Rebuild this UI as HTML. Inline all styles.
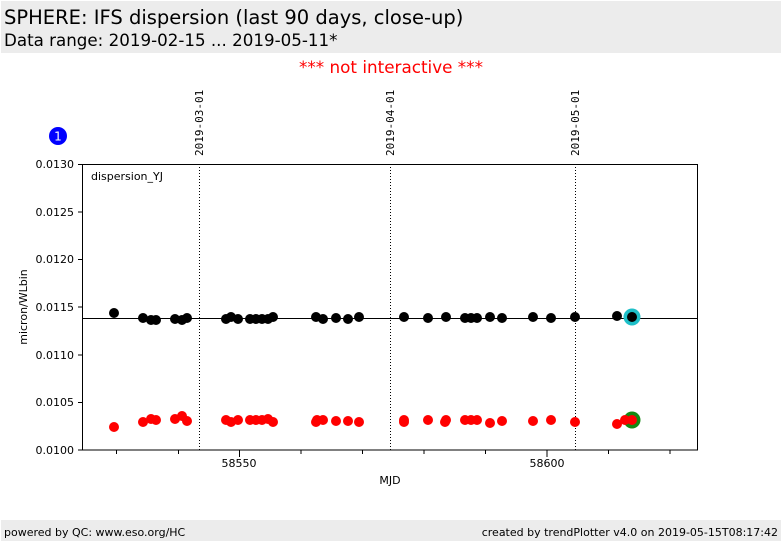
<!DOCTYPE html>
<html><head><meta charset="utf-8"><style>
body{margin:0;width:782px;height:542px;background:#fff;font-family:"Liberation Sans","DejaVu Sans",sans-serif;overflow:hidden}
</style></head><body>
<svg width="782" height="542" xmlns="http://www.w3.org/2000/svg" font-family="DejaVu Sans, Liberation Sans, sans-serif">
<rect x="1" y="1" width="780" height="52" fill="#ececec"/>
<text x="4" y="24" font-size="19.5">SPHERE: IFS dispersion (last 90 days, close-up)</text>
<text x="4" y="46" font-size="16.7">Data range: 2019-02-15 ... 2019-05-11*</text>
<text x="391" y="73" font-size="16.8" fill="#ff0000" text-anchor="middle">*** not interactive ***</text>
<rect x="1" y="520" width="780" height="21" fill="#ececec"/>
<text x="4" y="536" font-size="11">powered by QC: www.eso.org/HC</text>
<text x="778" y="536" font-size="11" text-anchor="end">created by trendPlotter v4.0 on 2019-05-15T08:17:42</text>
<circle cx="58" cy="136" r="9" fill="#0000ff"/>
<text x="58" y="140.5" font-size="12" fill="#fff" text-anchor="middle">1</text>
<g font-family="DejaVu Sans Mono, Liberation Mono, monospace" font-size="11">
<text transform="translate(203,156) rotate(-90)">2019-03-01</text>
<text transform="translate(394,156) rotate(-90)">2019-04-01</text>
<text transform="translate(579,156) rotate(-90)">2019-05-01</text>
</g>
<g stroke="#000" stroke-width="1" stroke-dasharray="1,2">
<line x1="199.5" y1="164" x2="199.5" y2="450"/>
<line x1="390.5" y1="164" x2="390.5" y2="450"/>
<line x1="575.5" y1="164" x2="575.5" y2="450"/>
</g>
<line x1="82" y1="318.5" x2="698" y2="318.5" stroke="#000"/>
<rect x="82.5" y="164.5" width="615" height="285.5" fill="none" stroke="#000"/>
<g stroke="#000">
<line x1="78" y1="164.5" x2="82" y2="164.5"/><line x1="78" y1="212" x2="82" y2="212"/>
<line x1="78" y1="259.5" x2="82" y2="259.5"/><line x1="78" y1="307" x2="82" y2="307"/>
<line x1="78" y1="355" x2="82" y2="355"/><line x1="78" y1="402.5" x2="82" y2="402.5"/>
<line x1="78" y1="450" x2="82" y2="450"/>
<line x1="116.5" y1="450" x2="116.5" y2="454"/><line x1="178.5" y1="450" x2="178.5" y2="454"/>
<line x1="239.5" y1="450" x2="239.5" y2="457"/><line x1="301" y1="450" x2="301" y2="454"/>
<line x1="362.5" y1="450" x2="362.5" y2="454"/><line x1="424" y1="450" x2="424" y2="454"/>
<line x1="485.5" y1="450" x2="485.5" y2="454"/><line x1="547" y1="450" x2="547" y2="457"/>
<line x1="608.5" y1="450" x2="608.5" y2="454"/><line x1="670" y1="450" x2="670" y2="454"/>
</g>
<g font-size="11" text-anchor="end">
<text x="74" y="168">0.0130</text><text x="74" y="216">0.0125</text>
<text x="74" y="263">0.0120</text><text x="74" y="311">0.0115</text>
<text x="74" y="359">0.0110</text><text x="74" y="406">0.0105</text>
<text x="74" y="454">0.0100</text>
</g>
<g font-size="11" text-anchor="middle">
<text x="239" y="467">58550</text><text x="547" y="467">58600</text>
<text x="390" y="484">MJD</text>
</g>
<text transform="translate(27,307) rotate(-90)" font-size="11" text-anchor="middle">micron/WLbin</text>
<text x="91" y="180" font-size="11">dispersion_YJ</text>
<circle cx="632" cy="317" r="8.5" fill="#1ebfc8"/>
<circle cx="632" cy="420" r="8.5" fill="#138a13"/>
<g fill="#000">
<circle cx="114" cy="313" r="5"/><circle cx="143" cy="318" r="5"/><circle cx="151" cy="320" r="5"/><circle cx="156" cy="320" r="5"/>
<circle cx="175" cy="319" r="5"/><circle cx="182" cy="320" r="5"/><circle cx="187" cy="318" r="5"/><circle cx="226" cy="319" r="5"/>
<circle cx="231" cy="317" r="5"/><circle cx="238" cy="319" r="5"/><circle cx="250" cy="319" r="5"/><circle cx="256" cy="319" r="5"/>
<circle cx="262" cy="319" r="5"/><circle cx="268" cy="319" r="5"/><circle cx="273" cy="317" r="5"/><circle cx="316" cy="317" r="5"/>
<circle cx="323" cy="319" r="5"/><circle cx="336" cy="318" r="5"/><circle cx="348" cy="319" r="5"/><circle cx="359" cy="317" r="5"/>
<circle cx="404" cy="317" r="5"/><circle cx="428" cy="318" r="5"/><circle cx="446" cy="317" r="5"/><circle cx="465" cy="318" r="5"/>
<circle cx="471" cy="318" r="5"/><circle cx="477" cy="318" r="5"/><circle cx="490" cy="317" r="5"/><circle cx="502" cy="318" r="5"/>
<circle cx="533" cy="317" r="5"/><circle cx="551" cy="318" r="5"/><circle cx="575" cy="317" r="5"/><circle cx="617" cy="316" r="5"/>
<circle cx="632" cy="317" r="5"/>
</g>
<g fill="#ff0000">
<circle cx="114" cy="427" r="5"/><circle cx="143" cy="422" r="5"/><circle cx="151" cy="419" r="5"/><circle cx="156" cy="420" r="5"/>
<circle cx="175" cy="419" r="5"/><circle cx="182" cy="416" r="5"/><circle cx="187" cy="421" r="5"/><circle cx="226" cy="420" r="5"/>
<circle cx="231" cy="422" r="5"/><circle cx="238" cy="420" r="5"/><circle cx="250" cy="420" r="5"/><circle cx="256" cy="420" r="5"/>
<circle cx="262" cy="420" r="5"/><circle cx="268" cy="419" r="5"/><circle cx="273" cy="422" r="5"/><circle cx="316" cy="422" r="5"/>
<circle cx="317" cy="420" r="5"/><circle cx="323" cy="420" r="5"/><circle cx="336" cy="421" r="5"/><circle cx="348" cy="421" r="5"/>
<circle cx="359" cy="422" r="5"/><circle cx="404" cy="420" r="5"/><circle cx="404" cy="422" r="5"/><circle cx="428" cy="420" r="5"/>
<circle cx="446" cy="420" r="5"/><circle cx="445" cy="422" r="5"/><circle cx="465" cy="420" r="5"/><circle cx="471" cy="420" r="5"/>
<circle cx="477" cy="420" r="5"/><circle cx="490" cy="423" r="5"/><circle cx="502" cy="421" r="5"/><circle cx="533" cy="421" r="5"/>
<circle cx="551" cy="420" r="5"/><circle cx="575" cy="422" r="5"/><circle cx="617" cy="424" r="5"/><circle cx="625" cy="420" r="5"/>
<circle cx="632" cy="420" r="5"/>
</g>
</svg>
</body></html>
